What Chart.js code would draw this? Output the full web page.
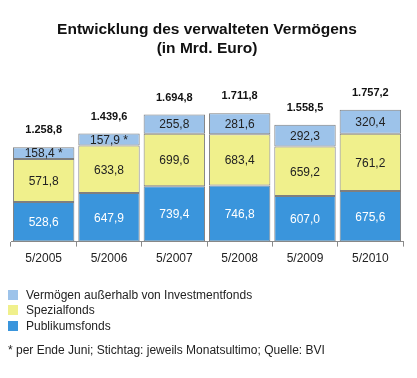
<!DOCTYPE html>
<html>
<head>
<meta charset="utf-8">
<script src="https://cdn.jsdelivr.net/npm/chart.js@4"></script>
<style>
  html, body { margin: 0; padding: 0; background: #fff; }
  #wrap { position: relative; width: 417px; height: 378px; font-family: 'Liberation Sans', Arial, sans-serif; }
  canvas { position: absolute; left: 0; top: 0; }
  .leg { position: absolute; left: 8px; font-size: 12px; color: #222; line-height: 14px; }
  .leg span.sw { position: absolute; left: 0; top: 2px; width: 10px; height: 10px; }
  .leg span.tx { position: absolute; left: 18px; top: 0; white-space: nowrap; }
  #note { position: absolute; left: 8px; top: 343px; font-size: 12px; color: #222; white-space: nowrap; }
</style>
</head>
<body>
<div id="wrap">
  <canvas id="c" width="417" height="378"></canvas>
  <div id="legend"></div>
  <div id="note"></div>
</div>
<script>
const categories = ['5/2005', '5/2006', '5/2007', '5/2008', '5/2009', '5/2010'];
const publikumsfonds = [528.6, 647.9, 739.4, 746.8, 607.0, 675.6];
const spezialfonds = [571.8, 633.8, 699.6, 683.4, 659.2, 761.2];
const ausserhalb = [158.4, 157.9, 255.8, 281.6, 292.3, 320.4];
const totals = [1258.8, 1439.6, 1694.8, 1711.8, 1558.5, 1757.2];
const ausserhalbNotes = ['*', '*', '', '', '', ''];
const seriesNames = ['Vermögen außerhalb von Investmentfonds', 'Spezialfonds', 'Publikumsfonds'];
const titleLines = ['Entwicklung des verwalteten Vermögens', '(in Mrd. Euro)'];
const footnote = '* per Ende Juni; Stichtag: jeweils Monatsultimo; Quelle: BVI';

const COLORS = { light: '#9dc3ea', yellow: '#f0f08c', blue: '#3a95dc' };
const FONT = "'Liberation Sans', Arial, sans-serif";

function fmt(v) {
  const parts = v.toFixed(1).split('.');
  const intPart = parts[0].replace(/\B(?=(\d{3})+(?!\d))/g, '.');
  return intPart + ',' + parts[1];
}

const labelPlugin = {
  id: 'valueLabels',
  afterDatasetsDraw(chart) {
    const ctx = chart.ctx;
    ctx.save();
    ctx.textAlign = 'center';
    ctx.textBaseline = 'middle';
    chart.data.datasets.forEach((ds, di) => {
      const meta = chart.getDatasetMeta(di);
      meta.data.forEach((bar, i) => {
        const y = (bar.y + bar.base) / 2;
        let txt = fmt(ds.data[i]);
        if (ds.notes && ds.notes[i]) txt += ' ' + ds.notes[i];
        ctx.font = '12px ' + FONT;
        ctx.fillStyle = ds.labelColor;
        ctx.fillText(txt, bar.x, y + 1);
      });
    });
    const topMeta = chart.getDatasetMeta(chart.data.datasets.length - 1);
    topMeta.data.forEach((bar, i) => {
      ctx.font = 'bold 11px ' + FONT;
      ctx.fillStyle = '#111';
      ctx.fillText(fmt(totals[i]), bar.x, bar.y - 17);
    });
    ctx.restore();
  }
};

const common = { borderColor: '#7f7f7f', borderWidth: 1, borderSkipped: false, barPercentage: 0.94, categoryPercentage: 1.0 };

new Chart(document.getElementById('c'), {
  type: 'bar',
  data: {
    labels: categories,
    datasets: [
      Object.assign({ label: seriesNames[2], data: publikumsfonds, backgroundColor: COLORS.blue, labelColor: '#ffffff' }, common),
      Object.assign({ label: seriesNames[1], data: spezialfonds, backgroundColor: COLORS.yellow, labelColor: '#222222' }, common),
      Object.assign({ label: seriesNames[0], data: ausserhalb, backgroundColor: COLORS.light, labelColor: '#222222', notes: ausserhalbNotes }, common)
    ]
  },
  options: {
    responsive: false,
    animation: false,
    layout: { padding: { left: 11, right: 14, top: 0, bottom: 107 } },
    plugins: {
      legend: { display: false },
      tooltip: { enabled: false },
      title: {
        display: true,
        text: titleLines,
        color: '#111',
        font: { family: FONT, size: 15.5, weight: 'bold', lineHeight: 1.18 },
        padding: { top: 21, bottom: 22 }
      }
    },
    scales: {
      x: {
        stacked: true,
        grid: { display: true, drawOnChartArea: false, drawTicks: true, tickLength: 5, color: '#8a8a8a', offset: true },
        border: { display: true, color: '#8a8a8a', width: 1 },
        ticks: { color: '#222', font: { family: FONT, size: 12 }, padding: 5 }
      },
      y: {
        stacked: true,
        display: false,
        min: 0,
        max: 2160
      }
    }
  },
  plugins: [labelPlugin]
});

const legendEl = document.getElementById('legend');
const legColors = [COLORS.light, COLORS.yellow, COLORS.blue];
const legTops = [288, 303, 319];
seriesNames.forEach((name, i) => {
  const d = document.createElement('div');
  d.className = 'leg';
  d.style.top = legTops[i] + 'px';
  d.innerHTML = '<span class="sw" style="background:' + legColors[i] + '"></span><span class="tx"></span>';
  d.querySelector('.tx').textContent = name;
  legendEl.appendChild(d);
});
document.getElementById('note').textContent = footnote;
</script>
</body>
</html>
